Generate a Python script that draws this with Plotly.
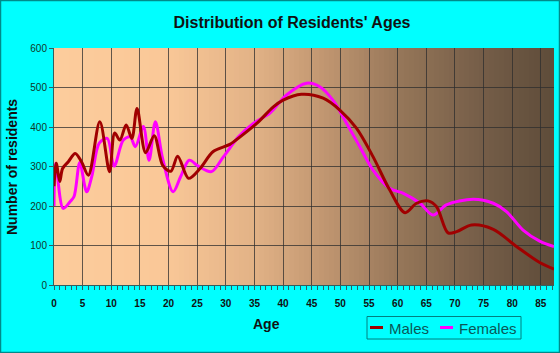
import plotly.graph_objects as go

# ---- data ----
male_ages = [0, 0.4, 1, 1.5, 2.5, 3.7, 4.8, 6.0, 8.0, 9.7, 10.6, 11.5, 12.6, 13.6, 14.5,
             16.0, 17.5, 19.0, 20.4, 21.6, 23.5, 25.5, 27.8, 30.7, 32.5, 35.4, 38.3, 40.0,
             43.2, 47.0, 49.9, 52.8, 55.7, 58.6, 61.3, 63.3, 65.3, 66.8, 68.8, 70.3, 72.9,
             76.7, 80.8, 84.8, 87.3]
male_vals = [250, 308, 262, 295, 312, 333, 312, 278, 413, 287, 385, 367, 405, 371, 447,
             335, 378, 302, 288, 326, 270, 295, 338, 356, 375, 409, 451, 468,
             483, 473, 443, 397, 325, 241, 183, 207, 213, 198, 132, 135, 152,
             141, 97, 57, 40]

female_ages = [0, 0.3, 1.6, 2.8, 3.5, 4.5, 5.7, 6.6, 7.9, 9.3, 10.5, 12.1, 13.3, 14.2, 15.6,
               16.6, 17.7, 19.0, 20.8, 22.1, 23.6, 25.2, 27.5, 29.6, 32.2, 34.8, 37.7, 40.6,
               44.1, 46.4, 48.7, 51.1, 53.4, 55.7, 58.6, 61.0, 63.9, 66.2, 68.5, 73.2, 76.7,
               79.0, 81.9, 84.8, 87.3]
female_vals = [200, 308, 194, 211, 224, 310, 236, 275, 359, 371, 301, 367, 375, 350, 401,
               316, 413, 318, 236, 274, 316, 301, 287, 325, 375, 409, 435, 481,
               511, 502, 468, 409, 350, 291, 245, 232, 207, 177, 203, 217, 207,
               186, 139, 111, 97]

series_names = ["Males", "Females"]
series_colors = ["#A00000", "#FF00FF"]

x_ticks = list(range(0, 90, 5))
y_ticks = list(range(0, 700, 100))

X_MAX = 87.3
FONT = "Liberation Sans, Arial"

fig = go.Figure()
# females drawn first so males sit on top
fig.add_trace(go.Scatter(x=female_ages, y=female_vals, name=series_names[1], mode="lines",
                         line=dict(color=series_colors[1], width=3, shape="spline", smoothing=0.9)))
fig.add_trace(go.Scatter(x=male_ages, y=male_vals, name=series_names[0], mode="lines",
                         line=dict(color=series_colors[0], width=3, shape="spline", smoothing=0.9)))

# gradient background strips
stops = [(0.0, (252, 204, 156)), (0.22, (250, 200, 152)), (0.40, (226, 178, 134)),
         (0.55, (190, 148, 111)), (0.70, (148, 117, 88)), (0.85, (118, 94, 72)),
         (1.0, (94, 76, 58))]

def col(f):
    for (a, ca), (b, cb) in zip(stops[:-1], stops[1:]):
        if a <= f <= b:
            t = (f - a) / (b - a)
            return "rgb(%d,%d,%d)" % tuple(round(ca[i] + (cb[i] - ca[i]) * t) for i in range(3))
    return "rgb(%d,%d,%d)" % stops[-1][1]

N = 100
shapes = []
for i in range(N):
    x0 = X_MAX * i / N
    x1 = X_MAX * (i + 1) / N + 0.05
    shapes.append(dict(type="rect", xref="x", yref="y", x0=x0, x1=x1, y0=0, y1=600,
                       fillcolor=col((i + 0.5) / N), line=dict(width=0), layer="below"))

pw, ph = 500, 237
L, B = 54, 285  # plot left / bottom in pixels


def px(x):
    return (x - L) / pw


def py(y):
    return (B - y) / ph


# outer border
shapes.append(dict(type="rect", xref="paper", yref="paper",
                   x0=px(0.5), x1=px(559.5), y0=py(352.5), y1=py(0.5),
                   line=dict(color="#008A8A", width=1.5), fillcolor="rgba(0,0,0,0)", layer="above"))

# manual legend (box, samples)
shapes.append(dict(type="rect", xref="paper", yref="paper",
                   x0=px(367), x1=px(521), y0=py(339), y1=py(316.5),
                   line=dict(color="#008080", width=1), fillcolor="rgba(0,0,0,0)"))
legend_items = [(370, 387), (440, 457)]
annotations = []
for (lx, tx), name, c in zip(legend_items, series_names, series_colors):
    shapes.append(dict(type="line", xref="paper", yref="paper",
                       x0=px(lx), x1=px(lx + 13), y0=py(327.5), y1=py(327.5),
                       line=dict(color=c, width=3)))
    annotations.append(dict(text=name, xref="paper", yref="paper", x=px(tx), y=py(328),
                            xanchor="left", yanchor="middle", showarrow=False,
                            font=dict(family=FONT, size=15, color="#0A5858")))

annotations += [
    dict(text="<b>Age</b>", xref="paper", yref="paper", x=px(266), y=py(324),
         xanchor="center", yanchor="middle", showarrow=False,
         font=dict(family=FONT, size=14, color="#111111")),
    dict(text="<b>Number of residents</b>", xref="paper", yref="paper", x=px(12),
         y=py(167), xanchor="center", yanchor="middle", textangle=-90, showarrow=False,
         font=dict(family=FONT, size=14, color="#111111")),
]

fig.update_layout(
    width=560, height=353,
    margin=dict(l=54, r=6, t=48, b=68),
    paper_bgcolor="#00FFFF",
    plot_bgcolor="#FCCC9C",
    shapes=shapes,
    showlegend=False,
    title=dict(text="<b>Distribution of Residents' Ages</b>", x=292 / 560, xanchor="center",
               y=1 - 22 / 353, yanchor="middle",
               font=dict(family=FONT, size=16, color="#111111")),
    xaxis=dict(range=[0, X_MAX], tickvals=x_ticks, showgrid=True, gridcolor="rgba(45,45,45,0.75)",
               gridwidth=1, zeroline=False, showline=True, linecolor="#2F6060", linewidth=1,
               ticks="outside", ticklen=4, tickcolor="#2F6060", ticklabelstandoff=5,
               minor=dict(dtick=1, ticks="outside", ticklen=4, tickcolor="#2F6060", showgrid=False),
               tickfont=dict(family=FONT, size=10, color="#111111", weight="bold"),
               fixedrange=True),
    yaxis=dict(range=[0, 600], tickvals=y_ticks, showgrid=True, gridcolor="rgba(45,45,45,0.75)",
               gridwidth=1, zeroline=False, showline=True, linecolor="#2F6060", linewidth=1,
               ticks="outside", ticklen=4, tickcolor="#2F6060",
               tickfont=dict(family=FONT, size=10, color="#103828"),
               fixedrange=True),
    annotations=annotations,
)

fig.write_html("out.html")
